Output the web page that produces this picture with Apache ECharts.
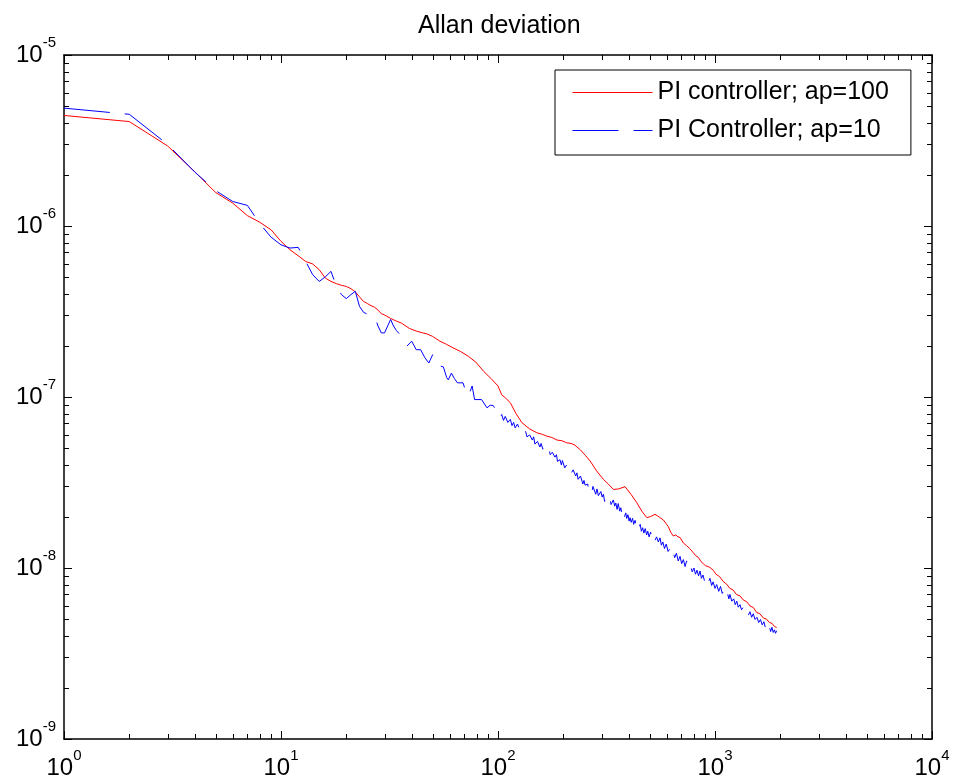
<!DOCTYPE html>
<html>
<head>
<meta charset="utf-8">
<script src="https://cdn.jsdelivr.net/npm/echarts@6.0.0/dist/echarts.min.js"></script>
<style>
  html, body { margin: 0; padding: 0; background: #fff; }
  #chart { width: 957px; height: 784px; }
</style>
</head>
<body>
<div id="chart"></div>
<script>
// ---- data ----
const titleText = 'Allan deviation';
const redName = 'PI controller; ap=100';
const blueName = 'PI Controller; ap=10';

const redTau = [1,2,3,4,5,6,7,8,9,10,11,12,13,14,15,16,17,18,19,20,21,22,23,24,25,26,27,28,29,30,32,34,36,39,42,45,47,50,54,58,62,67,73,79,86,93,100,104,108,114,121,129,140,151,160,168,177,187,197,207,217,226,240,253,266,285,306,322,340,360,385,410,436,460,485,505,529,555,578,595,610,625,642,660,675,690,715,740,765,794,815,840,862,883,905,930,955,982,1010,1050,1090,1132,1170,1210,1255,1304,1350,1400,1450,1501,1555,1610,1670,1730,1780,1830,1880,1924];
const redVal = [4.43e-6,4.08e-6,2.94e-6,2.08e-6,1.57e-6,1.36e-6,1.15e-6,1.05e-6,9.5e-7,8.13e-7,7.26e-7,6.7e-7,6.2e-7,6.0e-7,5.55e-7,4.96e-7,4.74e-7,4.6e-7,4.5e-7,4.43e-7,4.3e-7,4.12e-7,3.85e-7,3.62e-7,3.52e-7,3.42e-7,3.35e-7,3.22e-7,3.07e-7,3.02e-7,2.88e-7,2.78e-7,2.7e-7,2.52e-7,2.43e-7,2.37e-7,2.34e-7,2.26e-7,2.12e-7,2.03e-7,1.94e-7,1.85e-7,1.73e-7,1.6e-7,1.41e-7,1.28e-7,1.16e-7,1.03e-7,9.9e-8,9.25e-8,8.0e-8,7.07e-8,6.5e-8,6.18e-8,6.05e-8,5.9e-8,5.8e-8,5.6e-8,5.55e-8,5.4e-8,5.35e-8,5.23e-8,4.9e-8,4.55e-8,4.22e-8,3.69e-8,3.3e-8,3.1e-8,2.88e-8,2.9e-8,2.99e-8,2.7e-8,2.41e-8,2.15e-8,1.97e-8,2.0e-8,2.06e-8,1.98e-8,1.91e-8,1.82e-8,1.74e-8,1.62e-8,1.54e-8,1.56e-8,1.52e-8,1.51e-8,1.4e-8,1.35e-8,1.3e-8,1.23e-8,1.18e-8,1.15e-8,1.09e-8,1.06e-8,1.03e-8,1.02e-8,1.0e-8,9.7e-9,9.2e-9,8.9e-9,8.35e-9,8.04e-9,7.6e-9,7.45e-9,7.0e-9,6.87e-9,6.5e-9,6.35e-9,6.0e-9,5.88e-9,5.5e-9,5.4e-9,5.1e-9,5.02e-9,4.8e-9,4.75e-9,4.55e-9,4.49e-9];

const blueTau = [1,2,3,4,5,6,7,8,9,10,11,12,13,14,15,16,17,18,19,20,21,22,23,24,25,26,27,28,29,30,31,32,33,34,35,36,38,40,42,44,46,48,50,52,54,56,58,59,61,63,65,69,71,73,76,78,84,89,92,95,
  100,102,104,106,108,111,114,116,118,120,123,126,128,131,134,136,140,144,146,148,152,156,158,161,166,170,172,174,178,183,186,188,193,196,198,203,207,212,215,218,222,228,231,234,240,246,249,252,259,262,266,270,274,282,286,290,298,302,306,310,314,323,328,332,340,345,349,354,358,364,368,373,378,383,388,392,397,402,406,411,417,422,428,434,440,446,452,458,464,470,477,484,490,497,505,512,520,529,538,548,558,566,575,585,596,608,620,630,640,652,664,677,690,702,715,728,740,755,770,785,800,813,826,840,853,866,880,895,910,930,948,965,980,1000,1018,1040,1060,1080,1100,1120,1140,1158,1172,1195,1220,1240,1260,1280,1304,1325,1350,1375,1400,1425,1450,1475,1501,1530,1560,1590,1620,1650,1680,1705,1730,1755,1780,1805,1830,1855,1880,1900,1924];
const blueVal = [4.89e-6,4.5e-6,3.0e-6,2.07e-6,1.61e-6,1.39e-6,1.32e-6,1.03e-6,8.6e-7,7.76e-7,7.43e-7,7.5e-7,6.2e-7,5.19e-7,4.74e-7,5.04e-7,5.43e-7,4.42e-7,3.97e-7,3.76e-7,3.97e-7,4.15e-7,3.39e-7,3.13e-7,3.05e-7,3.0e-7,2.96e-7,2.6e-7,2.37e-7,2.37e-7,2.6e-7,2.84e-7,2.6e-7,2.45e-7,2.35e-7,2.2e-7,1.98e-7,2.12e-7,1.89e-7,1.89e-7,1.7e-7,1.58e-7,1.77e-7,1.55e-7,1.52e-7,1.5e-7,1.3e-7,1.26e-7,1.38e-7,1.28e-7,1.21e-7,1.21e-7,1.08e-7,1.01e-7,1.16e-7,9.66e-8,9.66e-8,8.64e-8,8.95e-8,8.92e-8,
  8.0e-8,7.5e-8,7.9e-8,7.3e-8,7.7e-8,7.1e-8,7.4e-8,6.8e-8,7.1e-8,6.6e-8,6.95e-8,6.4e-8,6.6e-8,6.1e-8,6.3e-8,5.85e-8,6.0e-8,5.6e-8,5.85e-8,5.3e-8,5.5e-8,5.1e-8,5.35e-8,4.95e-8,5.05e-8,4.7e-8,4.95e-8,4.6e-8,4.75e-8,4.45e-8,4.6e-8,4.2e-8,4.3e-8,4.0e-8,4.25e-8,3.85e-8,4.0e-8,3.7e-8,3.85e-8,3.6e-8,3.75e-8,3.45e-8,3.6e-8,3.3e-8,3.45e-8,3.1e-8,3.25e-8,3.05e-8,3.1e-8,2.85e-8,2.95e-8,2.75e-8,3.0e-8,2.7e-8,2.9e-8,2.65e-8,2.8e-8,2.6e-8,2.7e-8,2.45e-8,2.6e-8,2.45e-8,2.55e-8,2.35e-8,2.5e-8,2.3e-8,2.4e-8,2.2e-8,2.38e-8,2.15e-8,2.25e-8,2.05e-8,2.2e-8,2.0e-8,2.1e-8,1.95e-8,2.05e-8,1.88e-8,1.97e-8,1.85e-8,1.95e-8,1.8e-8,1.9e-8,1.74e-8,1.82e-8,1.7e-8,1.8e-8,1.64e-8,1.72e-8,1.6e-8,1.7e-8,1.56e-8,1.64e-8,1.52e-8,1.62e-8,1.5e-8,1.58e-8,1.45e-8,1.52e-8,1.42e-8,1.5e-8,1.36e-8,1.42e-8,1.3e-8,1.38e-8,1.25e-8,1.3e-8,1.2e-8,1.26e-8,1.15e-8,1.22e-8,1.1e-8,1.17e-8,1.06e-8,1.12e-8,1.02e-8,1.1e-8,9.9e-9,1.04e-8,9.5e-9,1.0e-8,9.2e-9,9.7e-9,9.0e-9,9.6e-9,8.7e-9,9.1e-9,8.4e-9,9.0e-9,8.2e-9,8.7e-9,7.9e-9,8.3e-9,7.6e-9,8.0e-9,7.3e-9,7.8e-9,7.1e-9,7.4e-9,6.8e-9,7.2e-9,6.6e-9,7.0e-9,6.4e-9,6.6e-9,6.1e-9,6.4e-9,5.9e-9,6.1e-9,5.7e-9,5.9e-9,5.5e-9,5.7e-9,5.3e-9,5.55e-9,5.15e-9,5.4e-9,5.0e-9,5.15e-9,4.8e-9,5.0e-9,4.65e-9,4.85e-9,4.5e-9,4.75e-9,4.4e-9,4.55e-9,4.25e-9,4.5e-9,4.2e-9,4.35e-9,4.15e-9,4.3e-9];

// axis ranges / tick labels (decade exponents)
const xMin = 1, xMax = 10000;
const yMin = 1e-9, yMax = 1e-5;
const xTickExps = [0, 1, 2, 3, 4];
const yTickExps = [-9, -8, -7, -6, -5];
const minorMults = [2, 3, 4, 5, 6, 7, 8, 9];

// ---- build ----
const font = '"Liberation Sans", Arial, Helvetica, sans-serif';
const xMinor = [];
xTickExps.slice(0, -1).forEach(e => minorMults.forEach(m => xMinor.push(m * Math.pow(10, e))));
const yMinor = [];
yTickExps.slice(0, -1).forEach(e => minorMults.forEach(m => yMinor.push(m * Math.pow(10, e))));

const redData = redTau.map((t, i) => [t, redVal[i]]);
const blueData = blueTau.map((t, i) => [t, blueVal[i]]);
const blueDash = [46, 15];

function decadeLabel(v) {
  const e = Math.round(Math.log10(v));
  return '{b|10}{s|' + e + '}';
}
const richLabel = {
  b: { fontSize: 24, fontFamily: font, color: '#000', lineHeight: 40 },
  s: { fontSize: 15, fontFamily: font, color: '#000', verticalAlign: 'top', lineHeight: 18 }
};

const axisLineStyle = { color: '#000', width: 1.5 };
const majorLen = 8, minorLen = 5;

function baseAxis(pos, min, max, showLabel, labelMargin) {
  return {
    type: 'log', logBase: 10, position: pos, min: min, max: max,
    axisLine: { show: true, onZero: false, lineStyle: axisLineStyle },
    axisTick: { show: true, inside: true, length: majorLen, lineStyle: { color: '#000', width: 1 } },
    axisLabel: showLabel ? { show: true, formatter: decadeLabel, margin: labelMargin, rich: richLabel } : { show: false },
    splitLine: { show: false },
    minorTick: { show: false },
    minorSplitLine: { show: false }
  };
}

const chart = echarts.init(document.getElementById('chart'), null, { renderer: 'canvas' });

const option = {
  animation: false,
  backgroundColor: '#fff',
  title: {
    text: titleText, left: 413, top: 9,
    textStyle: { fontSize: 25, fontWeight: 'normal', fontFamily: font, color: '#000' }
  },
  grid: { left: 64, top: 55, right: 25, bottom: 45, containLabel: false, outerBoundsMode: 'none' },
  xAxis: [
    baseAxis('bottom', xMin, xMax, true, 9),
    baseAxis('top', xMin, xMax, false, 0)
  ],
  yAxis: [
    baseAxis('left', yMin, yMax, true, 8),
    baseAxis('right', yMin, yMax, false, 0)
  ],
  legend: {
    data: [
      { name: redName, lineStyle: { width: 1, type: 'solid', color: '#ff0000' } },
      { name: blueName, lineStyle: { width: 1, type: blueDash, dashOffset: 0, color: '#0000ff' } }
    ],
    orient: 'vertical', left: 555, top: 70,
    itemWidth: 80, itemHeight: 14, itemGap: 13,
    padding: [10, 22, 12, 17],
    backgroundColor: '#fff', borderColor: '#000', borderWidth: 1, borderRadius: 0,
    selectedMode: false,
    itemStyle: { opacity: 0, color: 'rgba(0,0,0,0)', borderWidth: 0 },
    textStyle: { fontSize: 25, fontFamily: font, color: '#000', lineHeight: 24 }
  },
  series: [
    {
      name: redName, type: 'line', xAxisIndex: 0, yAxisIndex: 0,
      data: redData, symbol: 'none', showSymbol: false,
      lineStyle: { color: '#ff0000', width: 1 }, itemStyle: { color: '#ff0000' },
      z: 3
    },
    {
      name: blueName, type: 'line', xAxisIndex: 0, yAxisIndex: 0,
      data: blueData, symbol: 'none', showSymbol: false,
      lineStyle: { color: '#0000ff', width: 1, type: blueDash }, itemStyle: { color: '#0000ff' },
      z: 4
    },
    {
      name: 'xMinorTicks', type: 'custom', xAxisIndex: 0, yAxisIndex: 0, silent: true,
      data: xMinor.map(v => [v, yMin]),
      encode: { x: 0, y: 1 },
      renderItem: function (params, api) {
        const v = api.value(0);
        const pb = api.coord([v, yMin]);
        const pt = api.coord([v, yMax]);
        const x = Math.round(pb[0]) + 0.5;
        return { type: 'group', children: [
          { type: 'line', shape: { x1: x, y1: pb[1], x2: x, y2: pb[1] - minorLen }, style: { stroke: '#000', lineWidth: 1 } },
          { type: 'line', shape: { x1: x, y1: pt[1], x2: x, y2: pt[1] + minorLen }, style: { stroke: '#000', lineWidth: 1 } }
        ] };
      },
      z: 5
    },
    {
      name: 'yMinorTicks', type: 'custom', xAxisIndex: 0, yAxisIndex: 0, silent: true,
      data: yMinor.map(v => [xMin, v]),
      encode: { x: 0, y: 1 },
      renderItem: function (params, api) {
        const v = api.value(1);
        const pl = api.coord([xMin, v]);
        const pr = api.coord([xMax, v]);
        const y = Math.round(pl[1]) + 0.5;
        return { type: 'group', children: [
          { type: 'line', shape: { x1: pl[0], y1: y, x2: pl[0] + minorLen, y2: y }, style: { stroke: '#000', lineWidth: 1 } },
          { type: 'line', shape: { x1: pr[0], y1: y, x2: pr[0] - minorLen, y2: y }, style: { stroke: '#000', lineWidth: 1 } }
        ] };
      },
      z: 5
    }
  ]
};
chart.setOption(option);
</script>
</body>
</html>
